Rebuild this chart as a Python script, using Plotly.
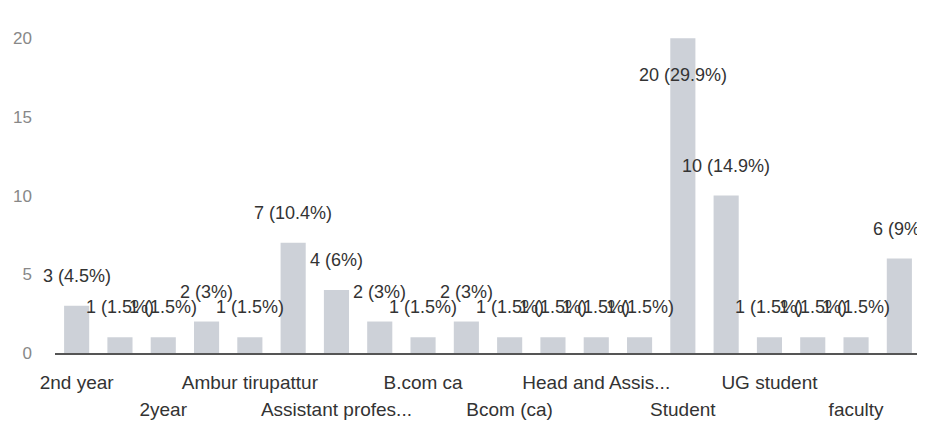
import plotly.graph_objects as go

categories = [
    "2nd year", "2nd yr", "2year", "Ambur", "Ambur tirupattur",
    "Assistant Professor", "Assistant professor", "B.com", "B.com ca", "B.com(CA)",
    "Bcom (ca)", "Head", "Head and Assistant", "Lecturer", "Student",
    "Teacher", "UG student", "UG Student", "faculty", "student",
]
counts = [3, 1, 1, 2, 1, 7, 4, 2, 1, 2, 1, 1, 1, 1, 20, 10, 1, 1, 1, 6]

row1_ticks = ["2nd year", "Ambur tirupattur", "B.com ca", "Head and Assistant", "UG student"]
row1_text = ["2nd year", "Ambur tirupattur", "B.com ca", "Head and Assis...", "UG student"]
row2_ticks = ["2year", "Assistant professor", "Bcom (ca)", "Student", "faculty"]
row2_text = ["2year", "Assistant profes...", "Bcom (ca)", "Student", "faculty"]

y_ticks = [0, 5, 10, 15, 20]

total = sum(counts)
FONT = "Liberation Sans, Arial, sans-serif"

fig = go.Figure()
fig.add_trace(go.Bar(
    x=categories, y=counts,
    marker=dict(color="#cdd1d8", line=dict(width=0)),
    hoverinfo="skip",
))
# empty trace so that the second (row-2 label) axis is drawn
fig.add_trace(go.Scatter(x=[], y=[], xaxis="x2", yaxis="y", hoverinfo="skip"))

ymax = 20.2
annotations = []
for c, v in zip(categories, counts):
    pct = round(100 * v / total, 1)
    pct_s = f"{pct:g}"
    inside = v > 0.9 * ymax
    annotations.append(dict(
        x=c, y=v, xref="x", yref="y",
        text=f"{v} ({pct_s}%)", showarrow=False,
        yshift=-37 if inside else 30,
        font=dict(family=FONT, size=18, color="#333333"),
    ))

xr = [-0.5, len(categories) - 0.5]
fig.update_layout(
    width=925, height=435,
    margin=dict(l=47, r=12, t=27, b=90),
    plot_bgcolor="white", paper_bgcolor="white",
    showlegend=False, bargap=0.42,
    annotations=annotations,
    xaxis=dict(
        type="category", categoryorder="array", categoryarray=categories,
        range=xr, autorange=False,
        tickmode="array", tickvals=row1_ticks, ticktext=row1_text,
        ticks="", ticklabelstandoff=11, automargin=False,
        showline=True, linecolor="#555555", linewidth=2,
        showgrid=False, zeroline=False,
        tickfont=dict(family=FONT, size=19, color="#333333"),
    ),
    xaxis2=dict(
        type="category", categoryorder="array", categoryarray=categories,
        matches="x", overlaying="x", anchor="y", side="bottom",
        tickmode="array", tickvals=row2_ticks, ticktext=row2_text,
        ticks="", ticklabelstandoff=43, automargin=False,
        showline=False, showgrid=False, zeroline=False,
        tickfont=dict(family=FONT, size=19, color="#333333"),
    ),
    yaxis=dict(
        range=[0, ymax], tickmode="array", tickvals=y_ticks,
        showgrid=False, zeroline=False, showline=False, ticks="",
        ticklabelstandoff=22, automargin=False,
        tickfont=dict(family=FONT, size=17, color="#888888"),
    ),
)

fig.write_html("out.html")
